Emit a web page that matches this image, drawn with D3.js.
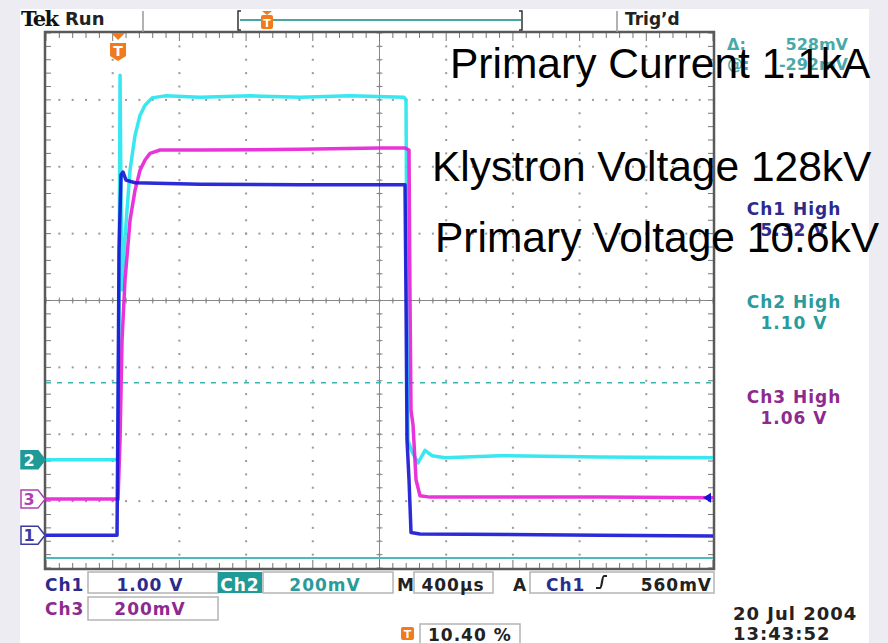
<!DOCTYPE html>
<html>
<head>
<meta charset="utf-8">
<script src="https://cdn.jsdelivr.net/npm/d3@7"></script>
<style>
  html, body { margin: 0; padding: 0; background: #ececf2; }
  svg { display: block; }
  .tek { font-family: "DejaVu Sans", sans-serif; font-weight: bold; }
  .big { font-family: "Liberation Sans", Arial, sans-serif; }
</style>
</head>
<body>
<svg id="scope" width="888" height="643"></svg>
<script>
"use strict";

// traces: [time in us, level in divisions]
const ch2Trace = [[0,-2.38],[432,-2.38],[438,0.01],[444,3.37],[450,1.50],[456,0.16],[468,0.75],
    [486,1.35],[504,1.95],[534,2.47],[564,2.77],[594,2.92],[636,3.03],[714,3.06],[924,3.04],
    [1224,3.06],[1523,3.04],[1823,3.06],[2147,3.04],[2159,3.00],[2165,0.01],[2171,-2.09],
    [2195,-2.26],[2231,-2.43],[2273,-2.24],[2315,-2.32],[2393,-2.35],[2723,-2.32],[3322,-2.34],[4000,-2.35]];
const ch3Trace = [[0,-2.97],[432,-2.97],[444,-2.09],[456,-0.59],[474,0.31],[504,1.20],[534,1.65],
    [564,1.95],[594,2.10],[624,2.20],[684,2.25],[924,2.25],[1523,2.26],[2003,2.28],[2153,2.28],
    [2177,2.25],[2183,0.01],[2189,-1.64],[2201,-1.86],[2219,-2.68],[2243,-2.92],[2303,-2.94],
    [3322,-2.94],[4000,-2.95]];
const ch1Trace = [[0,-3.51],[426,-3.51],[432,-1.49],[438,0.75],[450,1.88],[462,1.92],[480,1.80],
    [534,1.76],[924,1.74],[1523,1.73],[2153,1.73],[2159,0.01],[2165,-2.09],[2177,-2.68],
    [2189,-3.47],[2243,-3.49],[3322,-3.51],[4000,-3.52]];

const groundLevels = {ch1: -3.51, ch2: -2.38, ch3: -2.97};
const triggerTime = 432;
const triggerLevel = -2.95;
const cursorDashed = -1.23;
const cursorSolid = -3.85;

const overlayLabels = ["Primary Current 1.1kA", "Klystron Voltage 128kV", "Primary Voltage 10.6kV"];
const highLabels = [["Ch1 High", "5.32 V"], ["Ch2 High", "1.10 V"], ["Ch3 High", "1.06 V"]];

const C1 = "#1414d4", C2 = "#22e4ee", C3 = "#e41fd6";
const T1 = "#2b2b8e", T2 = "#2a9a9a", T3 = "#8d2a8f";
const ORANGE = "#f07a1c";

const svg = d3.select("#scope");
svg.append("rect").attr("x", 20).attr("y", 9).attr("width", 849).attr("height", 634).attr("fill", "#fff");

const x = d3.scaleLinear().domain([0, 4000]).range([46, 713]);
const y = d3.scaleLinear().domain([-4, 4]).range([568, 33]);

// graticule
const g = svg.append("g");
const majorX = d3.range(0, 4001, 400), majorY = d3.range(-4, 4.01, 1);
const minorX = d3.range(0, 4001, 80), minorY = d3.range(-4, 4.01, 0.2);
majorX.slice(1, -1).forEach(t => {
    g.selectAll(null).data(minorY.slice(1, -1)).join("rect")
        .attr("x", x(t) - 1).attr("y", d => y(d) - 1).attr("width", 2).attr("height", 2).attr("fill", "#9a9a9a");
});
majorY.slice(1, -1).forEach(v => {
    g.selectAll(null).data(minorX.slice(1, -1)).join("rect")
        .attr("x", d => x(d) - 1).attr("y", y(v) - 1).attr("width", 2).attr("height", 2).attr("fill", "#9a9a9a");
});
// center cross
g.append("line").attr("x1", x(0)).attr("x2", x(4000)).attr("y1", y(0)).attr("y2", y(0)).attr("stroke", "#888").attr("stroke-width", 1);
g.append("line").attr("x1", x(2000)).attr("x2", x(2000)).attr("y1", y(-4)).attr("y2", y(4)).attr("stroke", "#888").attr("stroke-width", 1);
g.selectAll(null).data(minorX).join("line")
    .attr("x1", d => x(d)).attr("x2", d => x(d)).attr("y1", y(0) - 3).attr("y2", y(0) + 3).attr("stroke", "#888");
g.selectAll(null).data(minorY).join("line")
    .attr("y1", d => y(d)).attr("y2", d => y(d)).attr("x1", x(2000) - 3).attr("x2", x(2000) + 3).attr("stroke", "#888");
// border ticks
g.selectAll(null).data(minorX).join("line")
    .attr("x1", d => x(d)).attr("x2", d => x(d)).attr("y1", y(4)).attr("y2", d => y(4) + (d % 400 === 0 ? 8 : 5)).attr("stroke", "#777");
g.selectAll(null).data(minorX).join("line")
    .attr("x1", d => x(d)).attr("x2", d => x(d)).attr("y1", y(-4)).attr("y2", d => y(-4) - (d % 400 === 0 ? 8 : 5)).attr("stroke", "#777");
g.selectAll(null).data(minorY).join("line")
    .attr("y1", d => y(d)).attr("y2", d => y(d)).attr("x1", x(0)).attr("x2", x(0) + 5).attr("stroke", "#777");
g.selectAll(null).data(minorY).join("line")
    .attr("y1", d => y(d)).attr("y2", d => y(d)).attr("x1", x(4000)).attr("x2", x(4000) - 5).attr("stroke", "#777");
g.append("rect").attr("x", x(0) - 1).attr("y", y(4) - 1).attr("width", x(4000) - x(0) + 2).attr("height", y(-4) - y(4) + 2)
    .attr("fill", "none").attr("stroke", "#5a5a5a").attr("stroke-width", 2.5);

// cursors
g.append("line").attr("x1", x(0)).attr("x2", x(4000)).attr("y1", y(cursorDashed)).attr("y2", y(cursorDashed))
    .attr("stroke", "#3bb4b4").attr("stroke-width", 1.5).attr("stroke-dasharray", "5,6");
g.append("line").attr("x1", x(0)).attr("x2", x(4000)).attr("y1", y(cursorSolid)).attr("y2", y(cursorSolid))
    .attr("stroke", "#4fb8b8").attr("stroke-width", 2);

// traces
const line = d3.line().x(d => x(d[0])).y(d => y(d[1]));
[[ch2Trace, C2, 3.5], [ch3Trace, C3, 3.5], [ch1Trace, C1, 3.5]].forEach(([data, col, w]) => {
    svg.append("path").datum(data).attr("d", line).attr("fill", "none")
        .attr("stroke", col).attr("stroke-width", w).attr("stroke-linejoin", "round").attr("opacity", 0.9);
});

// trigger level arrow (right)
svg.append("path").attr("d", `M${x(4000) - 10},${y(triggerLevel)} l8,-5 v10 z`).attr("fill", C1);

// channel ground markers
function marker(level, label, col, filled) {
    const yy = y(level);
    svg.append("path").attr("d", `M21,${yy - 9} h17 l7,9 l-7,9 h-17 z`)
        .attr("fill", filled ? col : "#fff").attr("stroke", col).attr("stroke-width", 1.5);
    svg.append("text").attr("class", "tek").attr("x", 29).attr("y", yy + 6).attr("text-anchor", "middle")
        .attr("font-size", 16).attr("fill", filled ? "#fff" : col).text(label);
}
marker(groundLevels.ch2, "2", "#1f9a96", true);
marker(groundLevels.ch3, "3", "#b040b0", false);
marker(groundLevels.ch1, "1", "#3a3aa0", false);

// trigger position marker
function tMarker(cx, top) {
    const gg = svg.append("g").attr("transform", `translate(${cx},${top})`);
    gg.append("path").attr("d", "M-7,0 h14 l-7,7 z").attr("fill", ORANGE);
    gg.append("path").attr("d", "M-8,10 h16 v13 l-8,5 l-8,-5 z").attr("fill", ORANGE);
    gg.append("text").attr("class", "tek").attr("x", 0).attr("y", 23).attr("text-anchor", "middle")
        .attr("font-size", 14).attr("fill", "#fff").text("T");
}
tMarker(x(triggerTime), 33);

// top bar
svg.append("text").attr("x", 21).attr("y", 26).attr("font-family", "DejaVu Serif, serif").attr("font-weight", "bold")
    .attr("font-size", 21).attr("letter-spacing", -1.5).attr("fill", "#111").text("Tek");
svg.append("text").attr("class", "tek").attr("x", 65).attr("y", 25).attr("font-size", 18).attr("font-weight", "normal")
    .attr("fill", "#222").text("Run");
svg.append("line").attr("x1", 143).attr("x2", 143).attr("y1", 11).attr("y2", 32).attr("stroke", "#999").attr("stroke-width", 1.5);
svg.append("line").attr("x1", 617).attr("x2", 617).attr("y1", 11).attr("y2", 32).attr("stroke", "#999").attr("stroke-width", 1.5);
svg.append("line").attr("x1", 240).attr("x2", 521).attr("y1", 20).attr("y2", 20).attr("stroke", "#4aa6a6").attr("stroke-width", 2);
svg.append("path").attr("d", "M241,11 h-3 v19 h3").attr("fill", "none").attr("stroke", "#333").attr("stroke-width", 1.5);
svg.append("path").attr("d", "M519,11 h3 v19 h-3").attr("fill", "none").attr("stroke", "#333").attr("stroke-width", 1.5);
svg.append("path").attr("d", "M262,11 h10 l-5,4 z").attr("fill", ORANGE);
svg.append("rect").attr("x", 261).attr("y", 15).attr("width", 12).attr("height", 14).attr("rx", 2).attr("fill", ORANGE);
svg.append("text").attr("class", "tek").attr("x", 267).attr("y", 27).attr("text-anchor", "middle").attr("font-size", 11).attr("fill", "#fff").text("T");
svg.append("text").attr("class", "tek").attr("x", 625).attr("y", 25).attr("font-size", 17).attr("fill", "#222").text("Trig\u2019d");

// right readouts
svg.append("text").attr("class", "tek").attr("x", 727).attr("y", 50).attr("font-size", 16).attr("fill", T2).attr("opacity", 0.85).text("\u0394:");
svg.append("text").attr("class", "tek").attr("x", 848).attr("y", 50).attr("text-anchor", "end").attr("font-size", 16).attr("fill", T2).attr("opacity", 0.85).text("528mV");
svg.append("text").attr("class", "tek").attr("x", 727).attr("y", 70).attr("font-size", 16).attr("fill", T2).attr("opacity", 0.85).text("@:");
svg.append("text").attr("class", "tek").attr("x", 848).attr("y", 70).attr("text-anchor", "end").attr("font-size", 16).attr("fill", T2).attr("opacity", 0.85).text("-292mV");

const highY = [215, 308, 403], highCol = [T1, T2, T3];
highLabels.forEach((h, i) => {
    svg.append("text").attr("class", "tek").attr("x", 794).attr("y", highY[i]).attr("text-anchor", "middle")
        .attr("font-size", 17).attr("letter-spacing", 1).attr("fill", highCol[i]).text(h[0]);
    svg.append("text").attr("class", "tek").attr("x", 794).attr("y", highY[i] + 21).attr("text-anchor", "middle")
        .attr("font-size", 17).attr("letter-spacing", 1).attr("fill", highCol[i]).text(h[1]);
});

// overlay annotations
const overlayPos = [[450, 78], [432, 181], [435, 252]];
overlayLabels.forEach((t, i) => {
    svg.append("text").attr("class", "big").attr("x", overlayPos[i][0]).attr("y", overlayPos[i][1])
        .attr("font-size", 42.5).attr("fill", "#000").text(t);
});

// bottom readouts
function box(x0, y0, w, h) {
    svg.append("rect").attr("x", x0).attr("y", y0).attr("width", w).attr("height", h)
        .attr("fill", "#fff").attr("stroke", "#b4b4b4").attr("stroke-width", 1.5);
}
function txt(xx, yy, s, col, anchor, size) {
    svg.append("text").attr("class", "tek").attr("x", xx).attr("y", yy).attr("text-anchor", anchor || "start")
        .attr("font-size", size || 17).attr("letter-spacing", 1).attr("fill", col).text(s);
}
box(88, 572, 130, 21);
box(263, 572, 130, 21);
box(414, 572, 79, 21);
box(530, 572, 184, 21);
box(88, 597, 130, 23);
box(420, 624, 100, 22);
svg.append("rect").attr("x", 218).attr("y", 572).attr("width", 44).attr("height", 21).attr("fill", "#1f9a96");
txt(45, 591, "Ch1", T1);
txt(150, 591, "1.00 V", T1, "middle");
txt(240, 591, "Ch2", "#fff", "middle");
txt(325, 591, "200mV", T2, "middle");
txt(397, 591, "M", "#222");
txt(453, 591, "400\u00b5s", "#222", "middle");
txt(513, 591, "A", "#222");
txt(546, 591, "Ch1", T1);
svg.append("path").attr("d", "M596,588 h4 c2,0 2,-12 4,-12 h3").attr("fill", "none").attr("stroke", "#222").attr("stroke-width", 2.2);
txt(712, 591, "560mV", "#222", "end");
txt(45, 615, "Ch3", T3);
txt(150, 615, "200mV", T3, "middle");
svg.append("rect").attr("x", 401).attr("y", 627).attr("width", 13).attr("height", 13).attr("rx", 2).attr("fill", ORANGE);
svg.append("text").attr("class", "tek").attr("x", 407.5).attr("y", 638).attr("text-anchor", "middle").attr("font-size", 11).attr("fill", "#fff").text("T");
txt(428, 641, "10.40 %", "#222");
txt(733, 620, "20 Jul  2004", "#222", "start", 18);
txt(733, 640, "13:43:52", "#222", "start", 18);
</script>
</body>
</html>
